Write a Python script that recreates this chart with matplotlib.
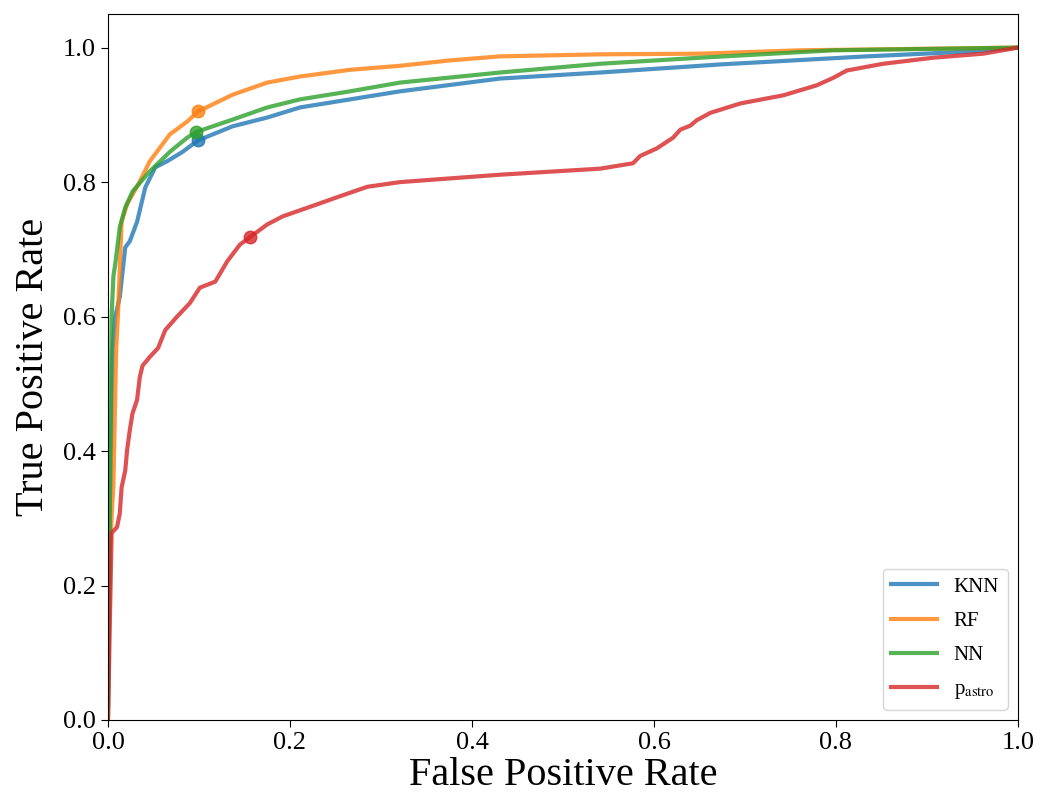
import numpy as np
import matplotlib
matplotlib.use("Agg")
import matplotlib.pyplot as plt

plt.rcParams['font.family'] = ['Liberation Serif', 'DejaVu Serif']
plt.rcParams['mathtext.fontset'] = 'stix'

# ROC curves (FPR, TPR)
knn_fpr = [0, 0.002, 0.005, 0.008, 0.013, 0.019, 0.024, 0.032, 0.041, 0.052, 0.065, 0.082, 0.099,
           0.137, 0.175, 0.211, 0.266, 0.321, 0.431, 0.541, 0.651, 0.673, 0.834, 0.944, 1.0]
knn_tpr = [0, 0.30, 0.55, 0.60, 0.629, 0.703, 0.712, 0.741, 0.792, 0.822, 0.831, 0.845, 0.862,
           0.883, 0.896, 0.911, 0.923, 0.935, 0.954, 0.963, 0.973, 0.975, 0.987, 0.994, 1.0]

rf_fpr = [0, 0.002, 0.006, 0.009, 0.011, 0.015, 0.021, 0.035, 0.046, 0.068, 0.087, 0.099,
          0.137, 0.175, 0.211, 0.266, 0.321, 0.376, 0.431, 0.541, 0.651, 0.76, 1.0]
rf_tpr = [0, 0.25, 0.35, 0.55, 0.603, 0.741, 0.767, 0.801, 0.831, 0.871, 0.890, 0.905,
          0.930, 0.948, 0.957, 0.967, 0.973, 0.981, 0.987, 0.990, 0.991, 0.996, 1.0]

nn_fpr = [0, 0.002, 0.004, 0.006, 0.008, 0.013, 0.019, 0.027, 0.046, 0.068, 0.087, 0.098,
          0.137, 0.175, 0.211, 0.266, 0.321, 0.431, 0.541, 0.651, 0.797, 1.0]
nn_tpr = [0, 0.30, 0.60, 0.66, 0.678, 0.733, 0.762, 0.786, 0.816, 0.845, 0.866, 0.875,
          0.893, 0.911, 0.923, 0.935, 0.948, 0.963, 0.976, 0.985, 0.996, 1.0]

pa_fpr = [0, 0.004, 0.010, 0.013, 0.015, 0.019, 0.021, 0.024, 0.027, 0.032, 0.035, 0.038,
          0.046, 0.055, 0.063, 0.076, 0.090, 0.101, 0.118, 0.131, 0.145, 0.156, 0.175, 0.192,
          0.230, 0.255, 0.285, 0.321, 0.431, 0.541, 0.577, 0.585, 0.603, 0.621, 0.629, 0.640,
          0.647, 0.662, 0.695, 0.742, 0.779, 0.797, 0.812, 0.852, 0.907, 0.962, 1.0]
pa_tpr = [0, 0.278, 0.287, 0.307, 0.346, 0.371, 0.401, 0.431, 0.456, 0.476, 0.510, 0.527,
          0.540, 0.553, 0.580, 0.600, 0.620, 0.643, 0.652, 0.682, 0.707, 0.718, 0.737, 0.749,
          0.767, 0.779, 0.793, 0.800, 0.811, 0.820, 0.828, 0.839, 0.850, 0.866, 0.878, 0.884,
          0.892, 0.903, 0.917, 0.929, 0.944, 0.955, 0.966, 0.976, 0.985, 0.991, 1.0]

# operating points
op_fpr = [0.099, 0.099, 0.097, 0.156]
op_tpr = [0.862, 0.905, 0.875, 0.718]

labels = ['KNN', 'RF', 'NN', r'p$_{\mathrm{astro}}$']
colors = ['tab:blue', 'tab:orange', 'tab:green', 'tab:red']

fig = plt.figure(figsize=(10.42, 8), dpi=100)
ax = fig.add_axes([0.1036, 0.1, 0.8733, 0.8825])

curves = [(knn_fpr, knn_tpr), (rf_fpr, rf_tpr), (nn_fpr, nn_tpr), (pa_fpr, pa_tpr)]
for (f, t), lab, c, xo, yo in zip(curves, labels, colors, op_fpr, op_tpr):
    ax.plot(f, t, color=c, lw=3, alpha=0.8, label=lab)
    ax.plot(xo, yo, 'o', color=c, ms=9, alpha=0.8)

ax.set_xlim(0, 1)
ax.set_ylim(0, 1.05)
ax.set_xlabel('False Positive Rate', fontsize=29, labelpad=2)
ax.set_ylabel('True Positive Rate', fontsize=29, labelpad=8)
ax.tick_params(labelsize=19, length=5)
ax.legend(loc='lower right', fontsize=15, handlelength=2.2, labelspacing=0.7)

fig.savefig('out.png', dpi=100)
